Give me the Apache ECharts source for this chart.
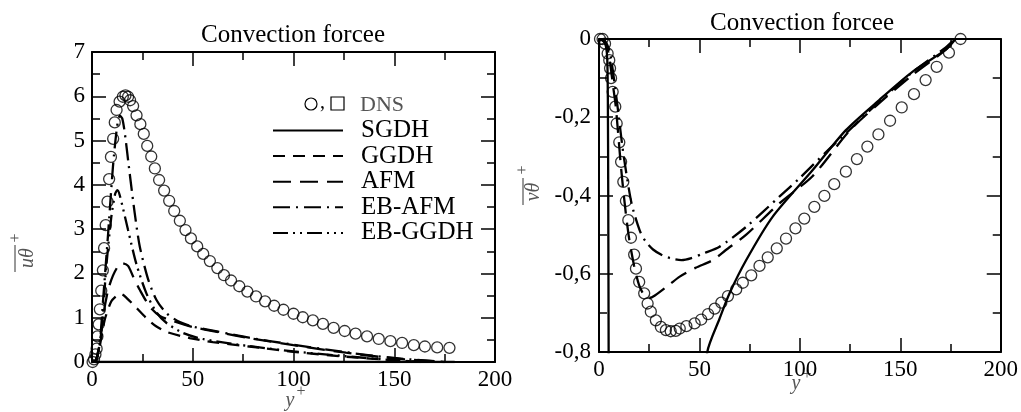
<!DOCTYPE html>
<html><head><meta charset="utf-8">
<script src="https://cdn.jsdelivr.net/npm/echarts@6/dist/echarts.min.js"></script>
<style>html,body{margin:0;padding:0;background:#fff}#c{width:1021px;height:412px}</style>
</head><body><div id="c"></div>
<script>
// ---------- data (left panel: streamwise heat flux) ----------
const xTicksLeft = [0, 50, 100, 150, 200];
const yTicksLeft = [0, 1, 2, 3, 4, 5, 6, 7];
const dnsLeft = [[0.3,0.0],[1.0,0.06],[1.7,0.17],[2.3,0.3],[2.7,0.58],[3.3,0.85],[3.9,1.19],[4.6,1.61],[5.4,2.07],[6.0,2.57],[6.8,3.09],[7.7,3.62],[8.5,4.13],[9.4,4.63],[10.5,5.04],[11.3,5.41],[12.2,5.69],[13.7,5.88],[15.3,5.99],[16.6,6.02],[17.9,5.99],[18.9,5.91],[20.4,5.78],[22.1,5.57],[24.0,5.37],[25.7,5.15],[27.4,4.88],[29.4,4.64],[31.2,4.37],[33.3,4.11],[35.8,3.87],[38.3,3.64],[40.8,3.41],[43.6,3.19],[46.4,2.98],[49.1,2.79],[52.2,2.61],[55.2,2.44],[58.5,2.28],[62.2,2.12],[65.5,1.96],[69.0,1.84],[73.1,1.71],[77.1,1.59],[81.4,1.48],[85.9,1.37],[90.4,1.27],[95.0,1.18],[100.0,1.09],[104.6,1.01],[109.6,0.94],[114.6,0.86],[119.9,0.77],[125.4,0.70],[130.8,0.64],[136.5,0.58],[142.3,0.52],[148.1,0.47],[153.9,0.43],[159.7,0.38],[165.2,0.35],[171.3,0.33],[177.4,0.32]];
const sgdhLeft = [[0,0],[60,0],[120,0],[180,0]];
const ggdhLeft = [[0,0],[2,0.03],[3.8,0.35],[6.3,0.95],[9.6,1.37],[12.9,1.52],[14.6,1.53],[17.1,1.45],[22.1,1.22],[27,0.99],[32,0.8],[37,0.68],[48.5,0.54],[60,0.45],[78,0.35],[100,0.23],[126,0.12],[150,0.04],[165,0]];
const afmLeft = [[0,0],[2,0.04],[4,0.45],[5.5,1.03],[8,1.63],[10.4,1.95],[12.9,2.16],[15.2,2.23],[17.9,2.17],[20.4,1.93],[23.7,1.63],[28.7,1.25],[33.7,1.04],[40,0.93],[50,0.79],[62,0.68],[78,0.54],[100,0.38],[126,0.21],[150,0.08],[175,0]];
const ebafmLeft = [[0,0],[2,0.05],[4,0.5],[5.5,1.4],[8,2.9],[10.4,4.41],[12.4,5.3],[13.8,5.56],[15,5.5],[16.3,5.16],[18.7,4.26],[21.2,3.36],[23.7,2.61],[27.9,1.86],[32,1.4],[37,1.1],[43.6,0.9],[50,0.8],[62,0.69],[78,0.55],[100,0.39],[126,0.22],[150,0.09],[175,0]];
const ebggdhLeft = [[0,0],[2,0.04],[4.6,0.65],[7.1,2.16],[9.6,3.28],[11.5,3.8],[12.6,3.88],[13.8,3.76],[17.9,2.98],[22.1,2.2],[27,1.55],[32,1.12],[37,0.88],[45,0.66],[55,0.52],[78,0.36],[100,0.24],[126,0.13],[150,0.04],[163,0]];

// ---------- data (right panel: wall-normal heat flux) ----------
const xTicksRight = [0, 50, 100, 150, 200];
const yTicksRight = [-0.8, -0.6, -0.4, -0.2, 0];
const dnsRight = [[0.5,0],[1.8,0],[3,-0.012],[4.3,-0.037],[5.1,-0.054],[5.5,-0.075],[6.0,-0.10],[6.8,-0.135],[8.1,-0.173],[8.8,-0.216],[10.1,-0.264],[11.0,-0.314],[12.1,-0.365],[13.4,-0.414],[14.6,-0.463],[15.9,-0.508],[17.5,-0.551],[18.4,-0.587],[20.0,-0.621],[22.5,-0.650],[24.2,-0.676],[25.8,-0.697],[28.3,-0.719],[30.8,-0.736],[33.3,-0.744],[35.7,-0.747],[38.2,-0.746],[40.2,-0.740],[43.5,-0.734],[47.6,-0.727],[50.9,-0.717],[54.3,-0.703],[57.6,-0.689],[60.9,-0.674],[64.2,-0.657],[68.3,-0.640],[71.6,-0.623],[75.8,-0.604],[79.9,-0.580],[84.0,-0.558],[88.5,-0.535],[93.1,-0.510],[97.8,-0.484],[102.2,-0.459],[107.2,-0.429],[112.2,-0.401],[117.1,-0.371],[122.9,-0.339],[128.4,-0.307],[133.6,-0.275],[139.1,-0.244],[144.9,-0.209],[150.7,-0.175],[156.8,-0.141],[162.6,-0.105],[168.1,-0.071],[174.2,-0.035],[180.0,0]];
const sgdhRight = [[0,0],[1.5,-0.003],[2.6,-0.008],[3.5,-0.02],[4.1,-0.05],[4.4,-0.15],[4.6,-0.4],[4.8,-0.8],[5,-1.2],[8,-3],[20,-4],[35,-3],[45,-1.6],[50,-1.05],[53.9,-0.8],[60,-0.715],[65,-0.65],[73.3,-0.565],[86.5,-0.454],[106.4,-0.335],[122.9,-0.233],[139.5,-0.156],[156,-0.084],[172.5,-0.028],[177.5,0]];
const afmRight = [[0,0],[2,-0.003],[4,-0.02],[5.5,-0.06],[7,-0.12],[8.4,-0.175],[11,-0.33],[13,-0.43],[15,-0.51],[17.5,-0.58],[20,-0.63],[22.5,-0.655],[25,-0.662],[28,-0.655],[35,-0.628],[40,-0.608],[48,-0.585],[56.7,-0.565],[63,-0.54],[73.3,-0.5],[89.8,-0.42],[106.4,-0.35],[124.6,-0.235],[139.5,-0.164],[156,-0.092],[172.5,-0.028],[177,0]];
const ebafmRight = [[0,0],[3,-0.005],[5.5,-0.036],[8.8,-0.155],[12.1,-0.292],[16.2,-0.42],[20.3,-0.49],[23.3,-0.518],[26.9,-0.538],[31.6,-0.553],[36,-0.561],[41,-0.565],[46,-0.56],[52,-0.548],[60,-0.531],[73.3,-0.48],[89.8,-0.403],[100,-0.355],[113.8,-0.285],[124.6,-0.233],[139.5,-0.16],[156,-0.085],[172.5,-0.022],[177,0]];

const seriesNames = ['SGDH', 'GGDH', 'AFM', 'EB-AFM', 'EB-GGDH'];
const dashTypes = { 'SGDH': 'solid', 'GGDH': [12, 8], 'AFM': [18, 9], 'EB-AFM': [17, 6, 2, 6], 'EB-GGDH': [15, 5, 2, 5, 2, 5] };

// ---------- chart ----------
const FONT = '"Liberation Serif", "Times New Roman", serif';
const chart = echarts.init(document.getElementById('c'), null, { renderer: 'canvas' });

function axis(kind, extra) {
  return Object.assign({
    type: 'value',
    axisLine: { onZero: false, lineStyle: { color: '#000', width: 2 } },
    axisTick: { inside: true, length: 14, lineStyle: { color: '#000', width: 1.5 } },
    minorTick: { show: true, splitNumber: 2, length: 8, lineStyle: { color: '#000', width: 1.5 } },
    splitLine: { show: false },
    minorSplitLine: { show: false },
    axisLabel: { color: '#000', fontFamily: FONT, fontSize: 23, margin: kind === 'x' ? 6 : 7 }
  }, extra);
}
const noLabel = { show: false };
const commaFmt = v => (Math.abs(v) < 1e-9 ? '0' : v.toFixed(1).replace('.', ','));

function lineSeries(name, data, xi, yi) {
  return {
    name, type: 'line', data, xAxisIndex: xi, yAxisIndex: yi,
    symbol: 'none', smooth: 0.25, clip: true, animation: false,
    lineStyle: { color: '#000', width: 2.3, type: dashTypes[name], cap: 'butt' },
    itemStyle: { color: '#000' }
  };
}
function dnsSeries(data, xi, yi) {
  return {
    name: 'DNS', type: 'scatter', data, xAxisIndex: xi, yAxisIndex: yi,
    symbol: 'circle', symbolSize: 11, animation: false,
    itemStyle: { color: 'rgba(0,0,0,0)', borderColor: '#000', borderWidth: 1.3 }
  };
}

const option = {
  backgroundColor: '#fff',
  animation: false,
  grid: [
    { left: 92, top: 52, width: 403, height: 310 },
    { left: 599, top: 39, width: 403, height: 313 }
  ],
  xAxis: [
    axis('x', { gridIndex: 0, position: 'bottom', min: xTicksLeft[0], max: xTicksLeft[xTicksLeft.length - 1], interval: 50 }),
    axis('x', { gridIndex: 0, position: 'top', min: xTicksLeft[0], max: xTicksLeft[xTicksLeft.length - 1], interval: 50, axisLabel: noLabel }),
    axis('x', { gridIndex: 1, position: 'bottom', min: xTicksRight[0], max: xTicksRight[xTicksRight.length - 1], interval: 50 }),
    axis('x', { gridIndex: 1, position: 'top', min: xTicksRight[0], max: xTicksRight[xTicksRight.length - 1], interval: 50, axisLabel: noLabel })
  ],
  yAxis: [
    axis('y', { gridIndex: 0, position: 'left', min: yTicksLeft[0], max: yTicksLeft[yTicksLeft.length - 1], interval: 1 }),
    axis('y', { gridIndex: 0, position: 'right', min: yTicksLeft[0], max: yTicksLeft[yTicksLeft.length - 1], interval: 1, axisLabel: noLabel }),
    axis('y', { gridIndex: 1, position: 'left', min: yTicksRight[0], max: yTicksRight[yTicksRight.length - 1], interval: 0.2,
      axisLabel: { color: '#000', fontFamily: FONT, fontSize: 23, margin: 8, formatter: commaFmt } }),
    axis('y', { gridIndex: 1, position: 'right', min: yTicksRight[0], max: yTicksRight[yTicksRight.length - 1], interval: 0.2, axisLabel: noLabel })
  ],
  legend: {
    data: seriesNames,
    orient: 'vertical',
    left: 272, top: 118,
    itemWidth: 70, itemHeight: 14, itemGap: 0.6,
    selectedMode: false,
    padding: 0,
    itemStyle: { color: 'rgba(0,0,0,0)', borderWidth: 0, opacity: 0 },
    textStyle: { color: '#000', fontFamily: FONT, fontSize: 25, lineHeight: 25, padding: [0, 0, 0, 13] }
  },
  series: [
    dnsSeries(dnsLeft, 0, 0),
    lineSeries('SGDH', sgdhLeft, 0, 0),
    lineSeries('GGDH', ggdhLeft, 0, 0),
    lineSeries('AFM', afmLeft, 0, 0),
    lineSeries('EB-AFM', ebafmLeft, 0, 0),
    lineSeries('EB-GGDH', ebggdhLeft, 0, 0),
    dnsSeries(dnsRight, 2, 2),
    lineSeries('SGDH', sgdhRight, 2, 2),
    lineSeries('AFM', afmRight, 2, 2),
    lineSeries('EB-AFM', ebafmRight, 2, 2)
  ],
  graphic: [
    // titles
    { type: 'text', style: { text: 'Convection forcee', x: 293, y: 35, fontFamily: FONT, fontSize: 25, fill: '#000', textAlign: 'center', textVerticalAlign: 'middle' } },
    { type: 'text', style: { text: 'Convection forcee', x: 802, y: 23, fontFamily: FONT, fontSize: 25, fill: '#000', textAlign: 'center', textVerticalAlign: 'middle' } },
    // DNS legend row
    { type: 'circle', shape: { cx: 311, cy: 104, r: 6 }, style: { fill: 'none', stroke: '#000', lineWidth: 1.2 } },
    { type: 'text', style: { text: ',', x: 320, y: 103, fontFamily: FONT, fontSize: 20, fill: '#000', textAlign: 'left', textVerticalAlign: 'middle' } },
    { type: 'rect', shape: { x: 331, y: 97, width: 13, height: 13 }, style: { fill: 'none', stroke: '#000', lineWidth: 1.2 } },
    { type: 'text', style: { text: 'DNS', x: 360, y: 105, fontFamily: FONT, fontSize: 22, fill: '#555', textAlign: 'left', textVerticalAlign: 'middle' } },
    // x axis names
    { type: 'text', style: { text: 'y', x: 290, y: 400.5, fontFamily: FONT, fontStyle: 'italic', fontSize: 20, fill: '#555', textAlign: 'center', textVerticalAlign: 'middle' } },
    { type: 'text', style: { text: '+', x: 301, y: 392, fontFamily: FONT, fontSize: 16, fill: '#555', textAlign: 'center', textVerticalAlign: 'middle' } },
    { type: 'text', style: { text: 'y', x: 796, y: 383.5, fontFamily: FONT, fontStyle: 'italic', fontSize: 20, fill: '#555', textAlign: 'center', textVerticalAlign: 'middle' } },
    { type: 'text', style: { text: '+', x: 807, y: 375, fontFamily: FONT, fontSize: 16, fill: '#555', textAlign: 'center', textVerticalAlign: 'middle' } },
    // y axis names (rotated)
    { type: 'group', x: 28, y: 258, rotation: Math.PI / 2, children: [
      { type: 'text', style: { text: 'uθ', x: 0, y: 0, fontFamily: FONT, fontStyle: 'italic', fontSize: 20, fill: '#555', textAlign: 'center', textVerticalAlign: 'middle' } },
      { type: 'text', style: { text: '+', x: 20, y: -12, fontFamily: FONT, fontSize: 16, fill: '#555', textAlign: 'center', textVerticalAlign: 'middle' } },
      { type: 'line', shape: { x1: -14, y1: -13, x2: 13, y2: -13 }, style: { stroke: '#333', lineWidth: 1 } }
    ] },
    { type: 'group', x: 534, y: 192, rotation: Math.PI / 2, children: [
      { type: 'text', style: { text: 'vθ', x: 0, y: 0, fontFamily: FONT, fontStyle: 'italic', fontSize: 20, fill: '#555', textAlign: 'center', textVerticalAlign: 'middle' } },
      { type: 'text', style: { text: '+', x: 22, y: -11, fontFamily: FONT, fontSize: 16, fill: '#555', textAlign: 'center', textVerticalAlign: 'middle' } },
      { type: 'line', shape: { x1: -13, y1: -11, x2: 14, y2: -11 }, style: { stroke: '#333', lineWidth: 1 } }
    ] }
  ]
};
chart.setOption(option);
</script>
</body></html>
